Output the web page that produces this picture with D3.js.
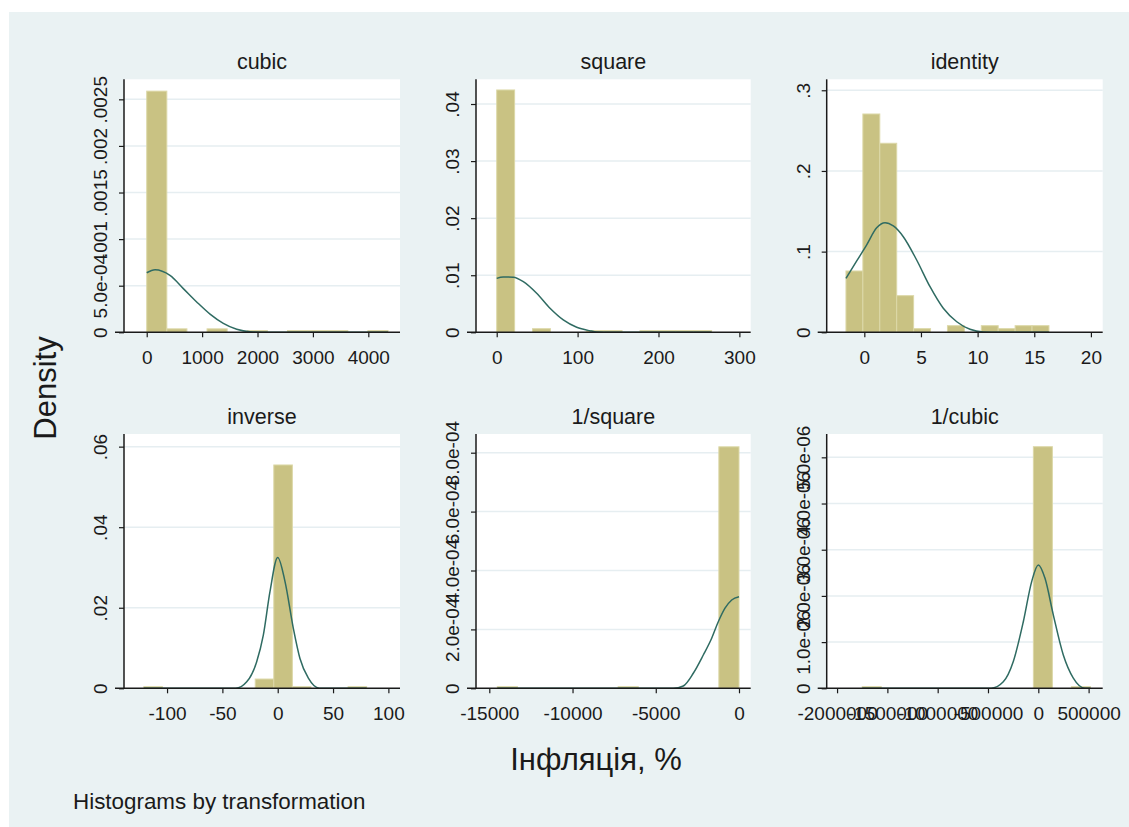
<!DOCTYPE html>
<html><head><meta charset="utf-8">
<script src="https://cdn.jsdelivr.net/npm/d3@7"></script>
<style>
html,body{margin:0;padding:0;background:#ffffff;}
svg{display:block;}
text{font-family:"Liberation Sans",Arial,sans-serif;fill:#1a1a1a;}
</style>
</head><body>
<svg id="chart" width="1129" height="827"></svg>
<script>
// ---------------- DATA ----------------
const panelTitles = ["cubic", "square", "identity", "inverse", "1/square", "1/cubic"];
const yAxisTitle = "Density";
const xAxisTitle = "Інфляція, %";
const noteText = "Histograms by transformation";

// bin edges + density heights per panel
const cubicEdges = [0, 363, 726, 1089, 1452, 1815, 2178, 2541, 2904, 3267, 3630, 3993, 4356];
const cubicDensity = [0.002588, 0.000037, 0, 0.000037, 0, 0.0000185, 0, 0.0000185, 0.0000185, 0.0000185, 0, 0.0000185];
const cubicCurve = [[0, 6.39e-4], [150, 6.71e-4], [420, 6.1e-4], [661, 4.69e-4], [902, 3.26e-4], [1143, 1.95e-4], [1383, 9.6e-5], [1625, 3.2e-5], [1865, 6e-6], [2200, 0], [4356, 0]];

const squareEdges = [0, 22.14, 44.28, 66.42, 88.56, 110.7, 132.84, 154.98, 177.12, 199.26, 221.4, 243.54, 265.68];
const squareDensity = [0.04246, 0, 0.00063, 0, 0, 0.0003, 0.0003, 0, 0.0003, 0.0003, 0.0003, 0.0003];
const squareCurve = [[0, 0.00945], [8, 0.0097], [20.5, 0.00964], [32.9, 0.00887], [49.4, 0.00683], [65.9, 0.0042], [82.3, 0.00216], [98.9, 0.00088], [115, 0.00028], [124, 0.00005], [140, 0], [265.68, 0]];

const identityEdges = [-1.62, -0.127, 1.366, 2.859, 4.352, 5.845, 7.338, 8.831, 10.324, 11.817, 13.31, 14.803, 16.296];
const identityDensity = [0.076, 0.2706, 0.2343, 0.0454, 0.0045, 0, 0.0082, 0, 0.0082, 0.0045, 0.0082, 0.0082];
const identityCurve = [[-1.62, 0.0668], [-0.67, 0.0885], [0.21, 0.1085], [1.09, 0.1295], [1.83, 0.1359], [2.56, 0.1318], [3.44, 0.1185], [4.62, 0.0896], [5.80, 0.0565], [6.97, 0.0298], [8.16, 0.0131], [9.33, 0.0037], [10.5, 0.0004], [12, 0], [16.296, 0]];

const inverseEdges = [-121, -104.22, -87.44, -70.66, -53.88, -37.1, -20.32, -3.54, 13.24, 30.02, 46.8, 63.58, 80.36];
const inverseDensity = [0.0004, 0, 0, 0, 0, 0, 0.0023, 0.05545, 0.0004, 0, 0, 0.0004];
const inverseCurve = [[-121, 0], [-38, 0], [-28, 0.0016], [-19, 0.0066], [-13, 0.0132], [-7, 0.024], [0, 0.0325], [6.6, 0.0265], [14.1, 0.0149], [20.1, 0.0074], [27.7, 0.0025], [37.6, 0], [80.36, 0]];

const invSquareEdges = [-14519, -13309, -12099, -10889, -9679, -8470, -7260, -6050, -4840, -3630, -2420, -1210, 0];
const invSquareDensity = [5.5e-6, 0, 0, 0, 0, 0, 5.5e-6, 0, 0, 0, 0, 8.2e-4];
const invSquareCurve = [[-14519, 0], [-3948, 0], [-3347, 7.8e-6], [-2746, 5.1e-5], [-2145, 1.13e-4], [-1641, 1.7e-4], [-1244, 2.26e-4], [-841, 2.72e-4], [-439, 3.0e-4], [0, 3.11e-4]];

const invCubicEdges = [-1750000, -1561000, -1372000, -1183000, -994000, -805000, -616000, -427000, -238000, -49000, 140000, 329000, 518000];
const invCubicDensity = [3.55e-8, 0, 0, 0, 0, 0, 0, 0, 0, 5.23e-6, 0, 3.55e-8];
const invCubicCurve = [[-1750000, 0], [-470000, 0], [-348000, 1.4e-7], [-248500, 5.8e-7], [-149000, 1.44e-6], [-66000, 2.31e-6], [0, 2.67e-6], [66600, 2.38e-6], [149000, 1.59e-6], [248500, 7.2e-7], [348000, 2.2e-7], [464000, 0], [518000, 0]];

// axis domains and ticks
const xDomains = [[-410, 4572], [-25.6, 314], [-3.32, 21.04], [-138.9, 110.5], [-15799, 703], [-2103000, 640000]];
const yDomains = [[0, 0.002715], [0, 0.04433], [0, 0.3136], [0, 0.06314], [0, 8.635e-4], [0, 5.505e-6]];
const xTickValues = [[0, 1000, 2000, 3000, 4000], [0, 100, 200, 300], [0, 5, 10, 15, 20], [-100, -50, 0, 50, 100], [-15000, -10000, -5000, 0], [-2000000, -1500000, -1000000, -500000, 0, 500000]];
const xTickLabels = [["0", "1000", "2000", "3000", "4000"], ["0", "100", "200", "300"], ["0", "5", "10", "15", "20"], ["-100", "-50", "0", "50", "100"], ["-15000", "-10000", "-5000", "0"], ["-2000000", "-1500000", "-1000000", "-500000", "0", "500000"]];
const yTickValues = [[0, 0.0005, 0.001, 0.0015, 0.002, 0.0025], [0, 0.01, 0.02, 0.03, 0.04], [0, 0.1, 0.2, 0.3], [0, 0.02, 0.04, 0.06], [0, 2e-4, 4e-4, 6e-4, 8e-4], [0, 1e-6, 2e-6, 3e-6, 4e-6, 5e-6]];
const yTickLabels = [["0", "5.0e-04", ".001", ".0015", ".002", ".0025"], ["0", ".01", ".02", ".03", ".04"], ["0", ".1", ".2", ".3"], ["0", ".02", ".04", ".06"], ["0", "2.0e-04", "4.0e-04", "6.0e-04", "8.0e-04"], ["0", "1.0e-06", "2.0e-06", "3.0e-06", "4.0e-06", "5.0e-06"]];

const allEdges = [cubicEdges, squareEdges, identityEdges, inverseEdges, invSquareEdges, invCubicEdges];
const allDensity = [cubicDensity, squareDensity, identityDensity, inverseDensity, invSquareDensity, invCubicDensity];
const allCurves = [cubicCurve, squareCurve, identityCurve, inverseCurve, invSquareCurve, invCubicCurve];

// ---------------- LAYOUT / STYLE ----------------
const W = 1129, H = 827;
const colLeft = [124, 476, 826.7], colRight = [400, 750.7, 1102.7];
const rowTop = [79.3, 434], rowBottom = [332.3, 688.3];
const BG = "#eaf2f3", GRID = "#e6eef1", BAR = "#c9c283", BAR_EDGE = "#dcd8a8", LINE = "#2f6b62", AXIS = "#1a1a1a";
const FONT = '"Liberation Sans",Arial,sans-serif';

const svg = d3.select("#chart");
svg.append("rect").attr("x", 9).attr("y", 12).attr("width", W - 9).attr("height", H - 12).attr("fill", BG);

panelTitles.forEach((title, i) => {
  const col = i % 3, row = Math.floor(i / 3);
  const x0 = colLeft[col], x1 = colRight[col], y0 = rowTop[row], y1 = rowBottom[row];
  const x = d3.scaleLinear().domain(xDomains[i]).range([x0, x1]);
  const y = d3.scaleLinear().domain(yDomains[i]).range([y1, y0]);
  const g = svg.append("g");

  // plot region
  g.append("rect").attr("x", x0).attr("y", y0).attr("width", x1 - x0).attr("height", y1 - y0).attr("fill", "#ffffff");

  // gridlines
  g.selectAll(".grid").data(yTickValues[i].filter(v => v > 0)).join("line")
    .attr("x1", x0).attr("x2", x1).attr("y1", d => y(d)).attr("y2", d => y(d))
    .attr("stroke", GRID).attr("stroke-width", 1.5);

  // bars
  const edges = allEdges[i];
  const bins = allDensity[i].map((d, k) => ({x0: edges[k], x1: edges[k + 1], d}));
  g.selectAll(".bar").data(bins.filter(b => b.d > 0)).join("rect")
    .attr("x", b => x(b.x0)).attr("width", b => x(b.x1) - x(b.x0))
    .attr("y", b => y(b.d)).attr("height", b => y(0) - y(b.d))
    .attr("fill", BAR).attr("stroke", BAR_EDGE).attr("stroke-width", 1);

  // normal curve
  const line = d3.line().x(d => x(d[0])).y(d => y(d[1])).curve(d3.curveMonotoneX);
  g.append("path").datum(allCurves[i]).attr("d", line)
    .attr("fill", "none").attr("stroke", LINE).attr("stroke-width", 1.5);

  // x axis
  const xAxis = d3.axisBottom(x).tickValues(xTickValues[i])
    .tickFormat((d, k) => xTickLabels[i][k]).tickSize(5).tickSizeOuter(0).tickPadding(13);
  const gx = g.append("g").attr("transform", `translate(0,${y1})`).call(xAxis);
  gx.select(".domain").remove();
  gx.selectAll("line").attr("stroke", AXIS).attr("stroke-width", 1.2);
  gx.selectAll("text").attr("font-size", "19px").attr("fill", "#1a1a1a")
    .attr("font-family", FONT).attr("dy", "0.71em");
  g.append("line").attr("x1", x0 - 9).attr("x2", x1).attr("y1", y1).attr("y2", y1)
    .attr("stroke", AXIS).attr("stroke-width", 1.5);

  // y axis
  const yAxis = d3.axisLeft(y).tickValues(yTickValues[i])
    .tickFormat((d, k) => yTickLabels[i][k]).tickSize(5).tickSizeOuter(0);
  const gy = g.append("g").attr("transform", `translate(${x0},0)`).call(yAxis);
  gy.select(".domain").remove();
  gy.selectAll("line").attr("stroke", AXIS).attr("stroke-width", 1.2);
  gy.selectAll("text").attr("font-size", "19px").attr("fill", "#1a1a1a")
    .attr("font-family", FONT)
    .attr("text-anchor", "middle").attr("x", 0).attr("y", -17).attr("dy", 0)
    .attr("transform", "rotate(-90)");
  g.append("line").attr("x1", x0).attr("x2", x0).attr("y1", y0).attr("y2", y1)
    .attr("stroke", AXIS).attr("stroke-width", 1.5);

  // panel title
  g.append("text").attr("x", (x0 + x1) / 2).attr("y", y0 - 10)
    .attr("text-anchor", "middle").attr("font-size", "21.5px").text(title);
});

// axis titles and note
svg.append("text").attr("transform", "translate(56,388) rotate(-90)")
  .attr("text-anchor", "middle").attr("font-size", "31px").text(yAxisTitle);
svg.append("text").attr("x", 596).attr("y", 770)
  .attr("text-anchor", "middle").attr("font-size", "31px").text(xAxisTitle);
svg.append("text").attr("x", 73).attr("y", 809)
  .attr("font-size", "22.4px").text(noteText);
</script>
</body></html>
